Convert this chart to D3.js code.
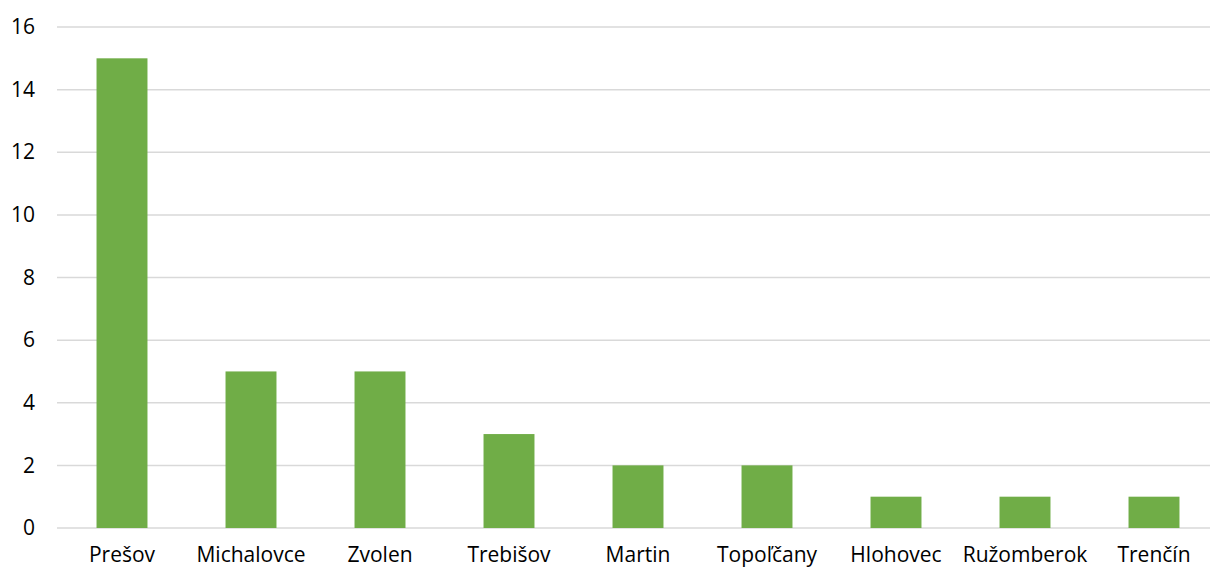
<!DOCTYPE html>
<html><head><meta charset="utf-8">
<script src="https://cdn.jsdelivr.net/npm/d3@7"></script>
<style>body{margin:0;background:#fff}svg{display:block}text{font-family:"Open Sans","Noto Sans",sans-serif;fill:#000}</style>
</head><body><svg id="c" width="1210" height="570"></svg>
<script>
const categories = ["Prešov","Michalovce","Zvolen","Trebišov","Martin","Topoľčany","Hlohovec","Ružomberok","Trenčín"];
const values = [15,5,5,3,2,2,1,1,1];
const yTicks = [0,2,4,6,8,10,12,14,16];

const svg = d3.select("#c");
const x = d3.scaleBand().domain(categories).range([57.5,1218.5]).paddingInner(0.605).paddingOuter(0.3025);
const y = d3.scaleLinear().domain([0,16]).range([528,27]);

svg.append("g").selectAll("line").data(yTicks).join("line")
  .attr("x1",57).attr("x2",1210).attr("y1",d=>y(d)).attr("y2",d=>y(d))
  .attr("stroke","#d9d9d9").attr("stroke-width",1.5);

svg.append("g").selectAll("rect").data(values).join("rect")
  .attr("x",(d,i)=>x(categories[i])).attr("width",x.bandwidth())
  .attr("y",d=>y(d)).attr("height",d=>y(0)-y(d)).attr("fill","#70ad47");

const ya = d3.axisLeft(y).tickValues(yTicks).tickSize(0).tickPadding(0);
const gy = svg.append("g").attr("transform","translate(35,0)").call(ya);
gy.select(".domain").remove();
gy.selectAll("text").attr("font-size",21).attr("font-family","'Open Sans',sans-serif").attr("fill","#000");

const xa = d3.axisBottom(x).tickSize(0).tickPadding(0);
const gx = svg.append("g").attr("transform","translate(0,547)").call(xa);
gx.select(".domain").remove();
gx.selectAll("text").attr("font-size",21).attr("font-family","'Open Sans',sans-serif").attr("fill","#000");
</script></body></html>
